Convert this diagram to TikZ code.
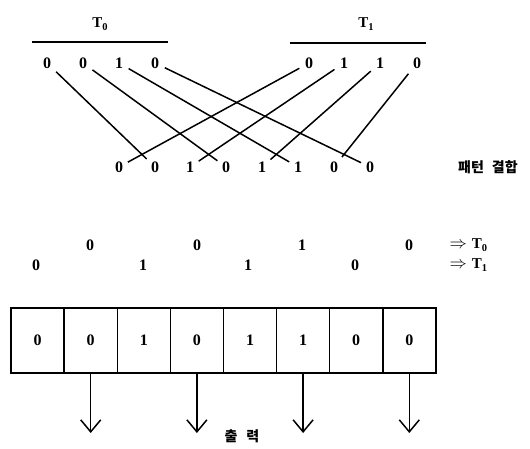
\documentclass[tikz,border=0pt]{standalone}
\usepackage{fontspec}
\setmainfont{Liberation Serif}
\newfontfamily\kr{Noto Sans CJK KR}
\usetikzlibrary{arrows.meta}
\newcommand\subs[1]{\raisebox{-0.4ex}{\fontsize{10.5}{11}\selectfont #1}}
\newcommand\bigimp{{\fontsize{19}{20}\selectfont$\Rightarrow$}}
\begin{document}
\begin{tikzpicture}[x=1pt,y=-1pt,
  dig/.style={font=\fontsize{16}{18}\selectfont\bfseries, inner sep=2pt},
  wire/.style={line width=1.5pt, shorten <=4pt, shorten >=3pt},
  bar/.style={line width=1.4pt},
  cell/.style={draw, line width=1.5pt, minimum width=53.1pt, minimum height=65pt, inner sep=0pt, font=\fontsize{16}{18}\selectfont\bfseries},
  outarr/.style={line width=1.5pt, -{Straight Barb[length=12pt,width=20pt,line width=1.5pt]}},
  lbl/.style={font=\fontsize{15}{17}\selectfont\bfseries},
  kor/.style={font=\kr\bfseries\fontsize{14}{16}\selectfont}
]
\useasboundingbox (0,0) rectangle (530,448);

% top labels and bars
\node[lbl] (T0) at (100,24) {T\subs{0}};
\coordinate (l0a) at (32,42); \coordinate (l0b) at (168,42);
\draw[bar] (l0a) -- (l0b);
\node[lbl] (T1) at (366,24) {T\subs{1}};
\coordinate (l1a) at (290,43); \coordinate (l1b) at (426,43);
\draw[bar] (l1a) -- (l1b);

% top digits
\node[dig] (ta1) at (47,63) {0};
\node[dig] (ta2) at (83,63) {0};
\node[dig] (ta3) at (119,63) {1};
\node[dig] (ta4) at (155,63) {0};
\node[dig] (tb1) at (309,63) {0};
\node[dig] (tb2) at (344,63) {1};
\node[dig] (tb3) at (380,63) {1};
\node[dig] (tb4) at (417,63) {0};

% combined digits
\node[dig] (b1) at (119,167) {0};
\node[dig] (b2) at (155,167) {0};
\node[dig] (b3) at (190,167) {1};
\node[dig] (b4) at (226,167) {0};
\node[dig] (b5) at (262,167) {1};
\node[dig] (b6) at (298,167) {1};
\node[dig] (b7) at (334,167) {0};
\node[dig] (b8) at (370,167) {0};

\draw[wire] (ta1) -- (b2);
\draw[wire] (ta2) -- (b4);
\draw[wire] (ta3) -- (b6);
\draw[wire] (ta4) -- (b8);
\draw[wire] (tb1) -- (b1);
\draw[wire] (tb2) -- (b3);
\draw[wire] (tb3) -- (b5);
\draw[wire] (tb4) -- (b7);

\node[kor] (comb) at (488,167) {패턴\hspace{8pt}결합};

% separated rows
\node[dig] (r01) at (90,245) {0};
\node[dig] (r02) at (197,245) {0};
\node[dig] (r03) at (302,245) {1};
\node[dig] (r04) at (409,245) {0};
\node[lbl, anchor=west] (rt0) at (446,245) {\bigimp\hspace{5pt}T\subs{0}};
\node[dig] (r11) at (36,265) {0};
\node[dig] (r12) at (143,265) {1};
\node[dig] (r13) at (248,265) {1};
\node[dig] (r14) at (355,265) {0};
\node[lbl, anchor=west] (rt1) at (446,265) {\bigimp\hspace{5pt}T\subs{1}};

% register cells
\node[cell] (c1) at (37.6,340.5) {0};
\node[cell] (c2) at (90.7,340.5) {0};
\node[cell] (c3) at (143.8,340.5) {1};
\node[cell] (c4) at (196.9,340.5) {0};
\node[cell] (c5) at (250.0,340.5) {1};
\node[cell] (c6) at (303.1,340.5) {1};
\node[cell] (c7) at (356.2,340.5) {0};
\node[cell] (c8) at (409.3,340.5) {0};

\coordinate (e2) at (c2.south |- 0,433);
\coordinate (e4) at (c4.south |- 0,433);
\coordinate (e6) at (c6.south |- 0,433);
\coordinate (e8) at (c8.south |- 0,433);
\draw[outarr] (c2.south) -- (e2);
\draw[outarr] (c4.south) -- (e4);
\draw[outarr] (c6.south) -- (e6);
\draw[outarr] (c8.south) -- (e8);

\node[kor] (out) at (242,436) {출\hspace{9pt}력};
\end{tikzpicture}
\end{document}
